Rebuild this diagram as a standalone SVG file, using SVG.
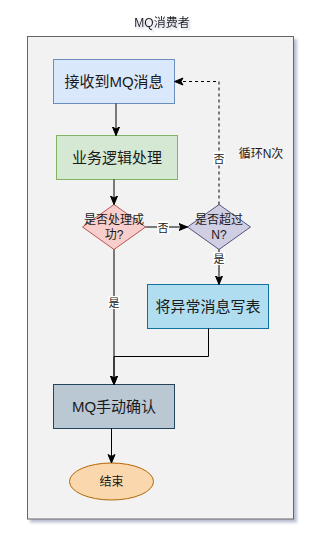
<svg xmlns="http://www.w3.org/2000/svg" width="317" height="539" viewBox="0 0 317 539">
<defs>
<marker id="arr" markerWidth="10" markerHeight="10" refX="9" refY="4" orient="auto" markerUnits="userSpaceOnUse">
<path d="M0.5,0.5 L9,4 L0.5,7.5 L2.5,4 Z" fill="#000" stroke="#000" stroke-width="1"/>
</marker>
<filter id="sh" x="-10%" y="-10%" width="130%" height="130%">
<feDropShadow dx="3" dy="3" stdDeviation="1.5" flood-color="#8a93b0" flood-opacity="0.6"/>
</filter>
<filter id="tsh" x="-20%" y="-50%" width="140%" height="200%">
<feDropShadow dx="2" dy="2" stdDeviation="1.2" flood-color="#8a93b0" flood-opacity="0.5"/>
</filter>
</defs>
<style>
text{font-family:"Liberation Sans","Noto Sans CJK SC",sans-serif;fill:#1a1a1a;text-anchor:middle}
.big{font-size:15px}
.sm{font-size:12px}
.lbl{font-size:11px}
.edge{fill:none;stroke:#000;stroke-width:1;marker-end:url(#arr)}
.dash{stroke-dasharray:3,3}
.bg{fill:#fff}
</style>
<rect width="317" height="539" fill="#fff"/>
<g id="container">
<text class="sm" x="162" y="27" filter="url(#tsh)">MQ消费者</text>
<rect x="27.5" y="36.5" width="266" height="482.5" fill="#f2f2f2" stroke="#666" filter="url(#sh)"/>
</g>
<g id="n1">
<rect x="53.5" y="59.5" width="121" height="44" fill="#dae8fc" stroke="#6c8ebf"/>
<text class="big" x="114" y="86.5">接收到MQ消息</text>
</g>
<g id="n2">
<rect x="56.5" y="135.5" width="121" height="44" fill="#d5e8d4" stroke="#82b366"/>
<text class="big" x="117" y="162.5">业务逻辑处理</text>
</g>
<g id="n3">
<path d="M114,204.5 L145.5,227 L114,249.5 L82.5,227 Z" fill="#f8cecc" stroke="#b85450"/>
<text class="sm" x="114" y="223.5">是否处理成</text>
<text class="sm" x="114" y="238.5">功?</text>
</g>
<g id="n4">
<path d="M219,204.5 L250.5,227 L219,249.5 L187.5,227 Z" fill="#d0cee2" stroke="#56517e"/>
<text class="sm" x="219" y="223.5">是否超过</text>
<text class="sm" x="219" y="238.5">N?</text>
</g>
<g id="n5">
<rect x="147.5" y="284.5" width="121" height="44" fill="#b1ddf0" stroke="#10739e"/>
<text class="big" x="208" y="311.5">将异常消息写表</text>
</g>
<g id="n6">
<rect x="53.5" y="384.5" width="121" height="44" fill="#bac8d3" stroke="#23445d"/>
<text class="big" x="114" y="411.5">MQ手动确认</text>
</g>
<g id="n7">
<ellipse cx="111.5" cy="481.5" rx="42" ry="18.5" fill="#fad7ac" stroke="#b46504"/>
<text class="sm" x="111.5" y="486">结束</text>
</g>
<g id="note">
<text class="sm" x="261" y="157.5">循环N次</text>
</g>
<g id="edges">
<path class="edge" d="M116,103.5 V135.5"/>
<path class="edge" d="M114,179.5 V204.5"/>
<path class="edge" d="M145.5,227 H187.5"/>
<path class="edge" d="M219,249.5 V284.5"/>
<path class="edge dash" d="M219,204.5 V81.5 H174.5"/>
<path class="edge" d="M114,249.5 V384.5"/>
<path class="edge" d="M208.5,328.5 V356.5 H114 V384.5"/>
<path class="edge" d="M111.5,428.5 V463"/>
<rect class="bg" x="157" y="221" width="12" height="13"/>
<text class="lbl" x="163" y="231.5">否</text>
<rect class="bg" x="213" y="152" width="12" height="13"/>
<text class="lbl" x="219" y="162.5">否</text>
<rect class="bg" x="213" y="252" width="12" height="13"/>
<text class="lbl" x="219" y="262.5">是</text>
<rect class="bg" x="108" y="296" width="12" height="13"/>
<text class="lbl" x="114" y="306.5">是</text>
</g>
</svg>
